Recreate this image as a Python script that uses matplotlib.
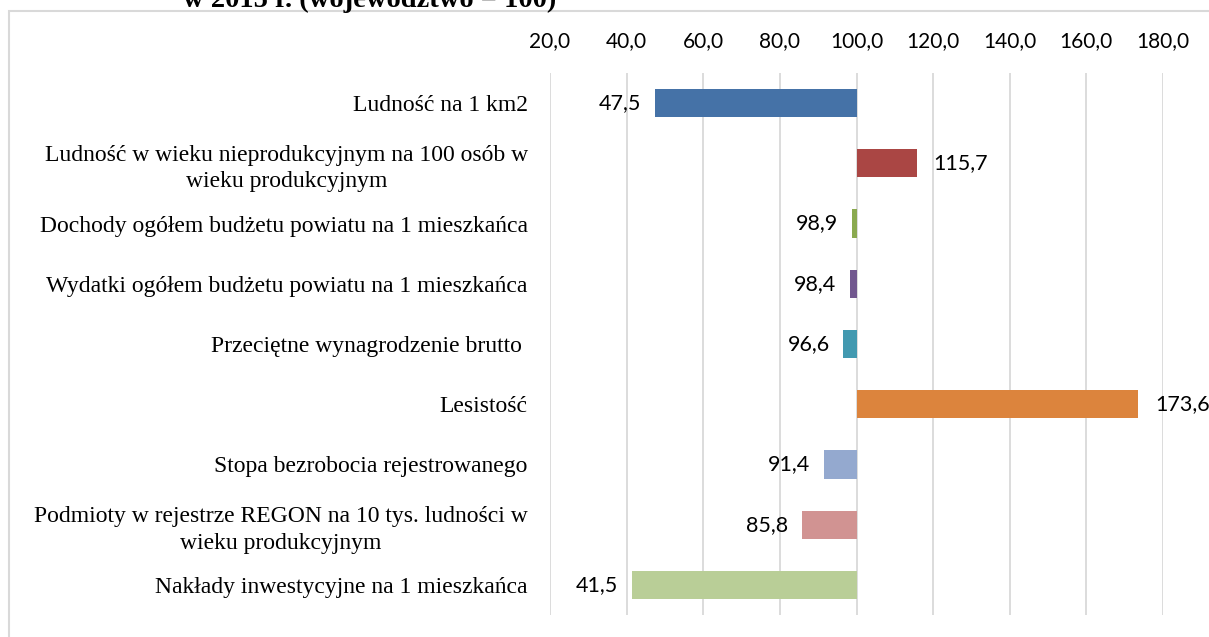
import matplotlib.pyplot as plt
from matplotlib.patches import Rectangle

categories = [
    "Ludność na 1 km2",
    "Ludność w wieku nieprodukcyjnym na 100 osób w\nwieku produkcyjnym",
    "Dochody ogółem budżetu powiatu na 1 mieszkańca",
    "Wydatki ogółem budżetu powiatu na 1 mieszkańca",
    "Przeciętne wynagrodzenie brutto ",
    "Lesistość",
    "Stopa bezrobocia rejestrowanego",
    "Podmioty w rejestrze REGON na 10 tys. ludności w\nwieku produkcyjnym",
    "Nakłady inwestycyjne na 1 mieszkańca",
]
values = [47.5, 115.7, 98.9, 98.4, 96.6, 173.6, 91.4, 85.8, 41.5]
colors = ["#4572a7", "#aa4644", "#8aa94f", "#72588f", "#4299b0",
          "#dc843d", "#94a9cf", "#d19392", "#b9ce97"]
ticks = [20, 40, 60, 80, 100, 120, 140, 160, 180]
base = 100

W, H = 1209, 637
fig = plt.figure(figsize=(W / 100, H / 100), dpi=100)

# outer chart border (runs off the right and bottom edge)
fig.patches.append(Rectangle((9 / W, -0.05), 1.2, 1 - 11 / H + 0.05,
                             transform=fig.transFigure, fill=False,
                             edgecolor="#d9d9d9", lw=1.5))

# clipped title line at the very top
fig.text(183 / W, 1 - 7 / H, "w 2015 r. (województwo = 100)",
         family="Liberation Serif", fontweight="bold", fontsize=20.5,
         va="baseline", ha="left")

ax = fig.add_axes([550 / W, 22 / H, (1163 - 550) / W, (615 - 73) / H])
y = list(range(len(values)))
diffs = [v - base for v in values]
ax.barh(y, diffs, left=base, height=0.47, color=colors, zorder=3)

for yi, v in zip(y, values):
    txt = f"{v:.1f}".replace(".", ",")
    if v < base:
        ax.annotate(txt, (v, yi), xytext=(-10, 0), textcoords="offset points",
                    ha="right", va="center", family="Lato", fontsize=15.5,
                    annotation_clip=False)
    else:
        ax.annotate(txt, (v, yi), xytext=(12, 0), textcoords="offset points",
                    ha="left", va="center", family="Lato", fontsize=15.5,
                    annotation_clip=False)

ax.set_xlim(20, 180)
ax.set_ylim(len(values) - 0.5, -0.5)
ax.set_xticks(ticks)
ax.set_xticklabels([f"{t:.1f}".replace(".", ",") for t in ticks],
                   family="Lato", fontsize=15)
ax.tick_params(axis="x", top=True, labeltop=True, bottom=False,
               labelbottom=False, length=0, pad=16)
ax.set_yticks(y)
ax.set_yticklabels(categories, family="Liberation Serif", fontsize=17,
                   multialignment="center", linespacing=1.35)
ax.tick_params(axis="y", length=0, pad=16)
ax.xaxis.grid(True, color="#d9d9d9", lw=1.3, zorder=0)
ax.set_axisbelow(True)
for s in ax.spines.values():
    s.set_visible(False)

fig.savefig("out.png", dpi=100)
